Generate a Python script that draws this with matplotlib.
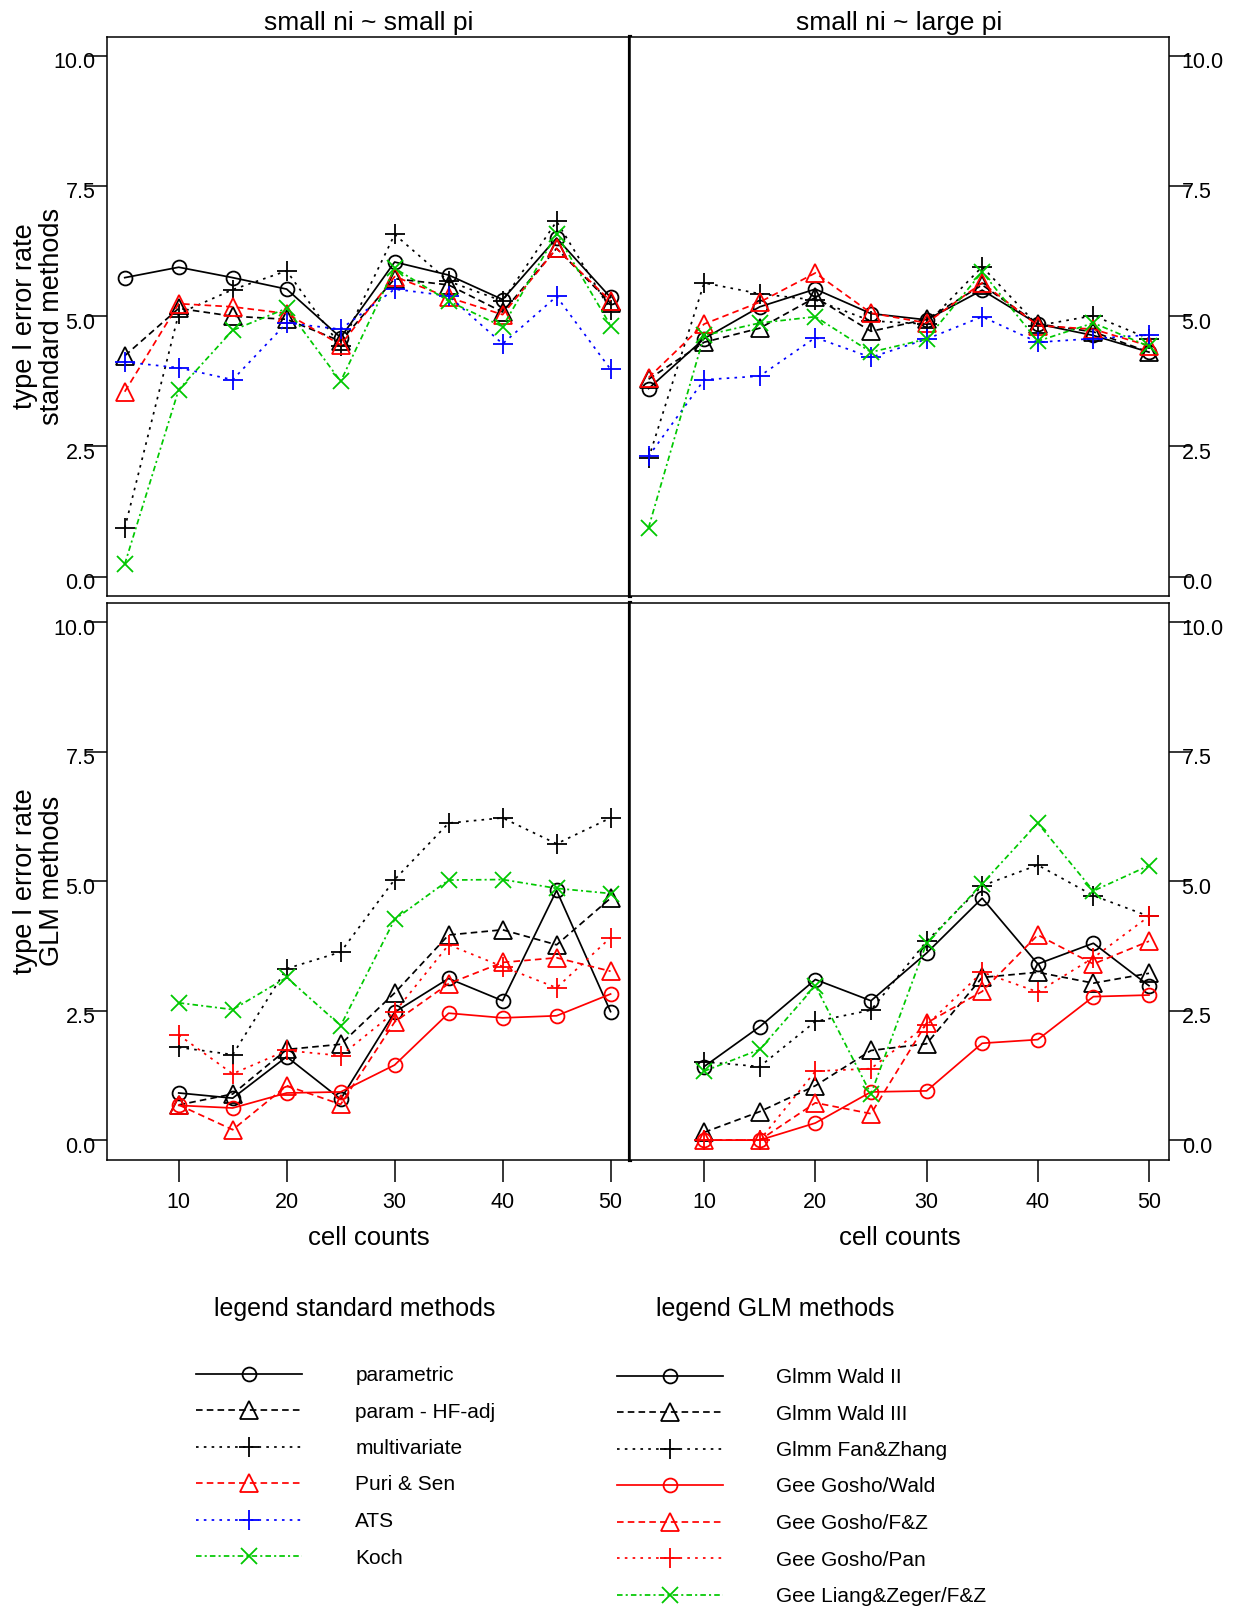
import matplotlib.pyplot as plt
import matplotlib.transforms as mtransforms
from matplotlib import rcParams

rcParams["font.family"] = ["Liberation Sans", "DejaVu Sans"]

# x values
cells_std = [5, 10, 15, 20, 25, 30, 35, 40, 45, 50]
cells_glm = [10, 15, 20, 25, 30, 35, 40, 45, 50]

# standard methods, small ni ~ small pi
sp_parametric = [5.74, 5.94, 5.74, 5.52, 4.59, 6.04, 5.79, 5.32, 6.50, 5.36]
sp_hf_adj = [4.24, 5.15, 5.00, 4.94, 4.52, 5.72, 5.60, 5.08, 6.30, 5.25]
sp_multivariate = [0.93, 5.05, 5.51, 5.87, 4.42, 6.57, 5.67, 5.29, 6.82, 5.12]
sp_puri_sen = [3.55, 5.24, 5.18, 5.05, 4.45, 5.76, 5.36, 5.03, 6.30, 5.29]
sp_ats = [4.12, 4.01, 3.78, 4.87, 4.75, 5.52, 5.39, 4.47, 5.38, 3.98]
sp_koch = [0.24, 3.59, 4.73, 5.15, 3.75, 5.92, 5.29, 4.80, 6.58, 4.82]

# standard methods, small ni ~ large pi
lp_parametric = [3.61, 4.57, 5.18, 5.52, 5.05, 4.93, 5.50, 4.85, 4.63, 4.31]
lp_hf_adj = [3.79, 4.50, 4.77, 5.36, 4.71, 4.94, 5.60, 4.85, 4.70, 4.31]
lp_multivariate = [2.27, 5.64, 5.43, 5.31, 4.91, 4.85, 5.95, 4.82, 5.01, 4.57]
lp_puri_sen = [3.82, 4.85, 5.27, 5.83, 5.06, 4.87, 5.64, 4.82, 4.75, 4.43]
lp_ats = [2.31, 3.78, 3.85, 4.59, 4.21, 4.56, 4.99, 4.50, 4.57, 4.64]
lp_koch = [0.94, 4.63, 4.87, 4.99, 4.31, 4.56, 5.85, 4.52, 4.87, 4.42]

# GLM methods, small ni ~ small pi
sp_wald2 = [0.91, 0.81, 1.61, 0.79, 2.47, 3.12, 2.69, 4.82, 2.48]
sp_wald3 = [0.68, 0.89, 1.75, 1.85, 2.84, 3.96, 4.06, 3.77, 4.67]
sp_fanzhang = [1.79, 1.65, 3.31, 3.63, 5.03, 6.12, 6.22, 5.72, 6.22]
sp_gosho_wald = [0.67, 0.62, 0.91, 0.93, 1.45, 2.45, 2.36, 2.40, 2.82]
sp_gosho_fz = [0.68, 0.20, 1.05, 0.69, 2.28, 3.02, 3.43, 3.52, 3.26]
sp_gosho_pan = [2.03, 1.28, 1.73, 1.63, 2.47, 3.77, 3.35, 2.94, 3.91]
sp_liang_fz = [2.65, 2.52, 3.14, 2.21, 4.26, 5.02, 5.03, 4.86, 4.76]

# GLM methods, small ni ~ large pi
lp_wald2 = [1.42, 2.19, 3.10, 2.69, 3.61, 4.67, 3.40, 3.80, 2.98]
lp_wald3 = [0.15, 0.55, 1.05, 1.73, 1.86, 3.14, 3.24, 3.03, 3.22]
lp_fanzhang = [1.51, 1.42, 2.29, 2.51, 3.84, 4.91, 5.31, 4.72, 4.32]
lp_gosho_wald = [0.0, 0.0, 0.33, 0.93, 0.95, 1.87, 1.94, 2.77, 2.80]
lp_gosho_fz = [0.0, 0.0, 0.72, 0.51, 2.26, 2.87, 3.96, 3.40, 3.84]
lp_gosho_pan = [0.0, 0.0, 1.33, 1.38, 2.22, 3.24, 2.86, 3.52, 4.32]
lp_liang_fz = [1.33, 1.75, 2.98, 0.89, 3.80, 4.95, 6.12, 4.81, 5.30]

std_labels = ["parametric", "param - HF-adj", "multivariate", "Puri & Sen", "ATS", "Koch"]
glm_labels = ["Glmm Wald II", "Glmm Wald III", "Glmm Fan&Zhang", "Gee Gosho/Wald",
              "Gee Gosho/F&Z", "Gee Gosho/Pan", "Gee Liang&Zeger/F&Z"]

GREEN = "#00C800"
solid = "-"
dashed = (0, (3.8, 2.4))
dotted = (0, (1.5, 3.0))
dashdot = (0, (3.2, 1.8, 1.2, 1.8))
msize = {"o": 10, "^": 13.5, "+": 15, "x": 12}

std_styles = [("black", solid, "o"), ("black", dashed, "^"), ("black", dotted, "+"),
              ("red", dashed, "^"), ("blue", dotted, "+"), (GREEN, dashdot, "x")]
glm_styles = [("black", solid, "o"), ("black", dashed, "^"), ("black", dotted, "+"),
              ("red", solid, "o"), ("red", dashed, "^"), ("red", dotted, "+"),
              (GREEN, dashdot, "x")]

W, H = 1233, 1607
fig = plt.figure(figsize=(W / 100, H / 100), dpi=100)


def px_axes(l, t, r, b):
    return fig.add_axes([l / W, 1 - b / H, (r - l) / W, (b - t) / H])


ax_tl = px_axes(106.7, 36.5, 630, 596.4)
ax_tr = px_axes(630, 36.5, 1169, 596.4)
ax_bl = px_axes(106.7, 602.9, 630, 1159.8)
ax_br = px_axes(630, 602.9, 1169, 1159.8)


def draw(ax, x, series, styles, labels):
    for y, (c, ls, m), lab in zip(series, styles, labels):
        ax.plot(x, y, color=c, linestyle=ls, marker=m, markersize=msize[m],
                markerfacecolor="none", markeredgecolor=c, markeredgewidth=1.3,
                linewidth=1.25, label=lab)


draw(ax_tl, cells_std, [sp_parametric, sp_hf_adj, sp_multivariate, sp_puri_sen, sp_ats, sp_koch],
     std_styles, std_labels)
draw(ax_tr, cells_std, [lp_parametric, lp_hf_adj, lp_multivariate, lp_puri_sen, lp_ats, lp_koch],
     std_styles, std_labels)
draw(ax_bl, cells_glm, [sp_wald2, sp_wald3, sp_fanzhang, sp_gosho_wald, sp_gosho_fz,
                        sp_gosho_pan, sp_liang_fz], glm_styles, glm_labels)
draw(ax_br, cells_glm, [lp_wald2, lp_wald3, lp_fanzhang, lp_gosho_wald, lp_gosho_fz,
                        lp_gosho_pan, lp_liang_fz], glm_styles, glm_labels)

yt = [0, 2.5, 5, 7.5, 10]
ytl = ["0.0", "2.5", "5.0", "7.5", "10.0"]
shift = mtransforms.ScaledTranslation(0, -3.2 / 72, fig.dpi_scale_trans)

for ax in [ax_tl, ax_tr, ax_bl, ax_br]:
    ax.set_xlim(3.33, 51.8)
    ax.set_ylim(-0.38, 10.37)
    ax.set_yticks(yt)
    ax.set_yticklabels(ytl)
    ax.set_xticks([10, 20, 30, 40, 50])
    for s in ax.spines.values():
        s.set_linewidth(1.1)
    ax.tick_params(direction="out", length=15.6, width=1.1, labelsize=15.5)

for ax in [ax_tl, ax_bl]:
    ax.tick_params(axis="y", left=True, right=False, labelleft=True, pad=-7.5)
    ax.spines["right"].set_linewidth(3.0)
for ax in [ax_tr, ax_br]:
    ax.tick_params(axis="y", left=False, right=True, labelleft=False, labelright=True, pad=-6.5)
for ax in [ax_tl, ax_tr]:
    ax.tick_params(axis="x", bottom=False, labelbottom=False)
for ax in [ax_bl, ax_br]:
    ax.tick_params(axis="x", pad=7.5)
    ax.set_xlabel("cell counts", fontsize=18.5, labelpad=9.5)

# nudge y tick labels a little below their ticks
for ax in [ax_tl, ax_tr, ax_bl, ax_br]:
    for t in ax.yaxis.get_major_ticks():
        t.label1.set_transform(t.label1.get_transform() + shift)
        t.label2.set_transform(t.label2.get_transform() + shift)

ax_tl.set_title("small ni ~ small pi", fontsize=19, pad=4.7)
ax_tr.set_title("small ni ~ large pi", fontsize=19, pad=4.7)

for yc, second in [(316.5, "standard methods"), (881.3, "GLM methods")]:
    fig.text(25 / W, 1 - yc / H, "type I error rate", rotation=90, ha="center", va="center",
             fontsize=19.5)
    fig.text(51.7 / W, 1 - yc / H, second, rotation=90, ha="center", va="center", fontsize=19.5)

# legends
fig.text(355 / W, 1 - 1309 / H, "legend standard methods", ha="center", va="center", fontsize=18)
fig.text(775 / W, 1 - 1309 / H, "legend GLM methods", ha="center", va="center", fontsize=18)

h_std, l_std = ax_tl.get_legend_handles_labels()
h_glm, l_glm = ax_bl.get_legend_handles_labels()
leg_kw = dict(loc="upper left", frameon=False, fontsize=15, handlelength=5.1,
              handletextpad=2.55, labelspacing=0.84, borderpad=0, borderaxespad=0,
              numpoints=1)
fig.legend(h_std, l_std, bbox_to_anchor=(196 / W, 1 - 1366 / H), **leg_kw)
fig.legend(h_glm, l_glm, bbox_to_anchor=(616.8 / W, 1 - 1368 / H), **leg_kw)

fig.savefig("out.png", dpi=100)
